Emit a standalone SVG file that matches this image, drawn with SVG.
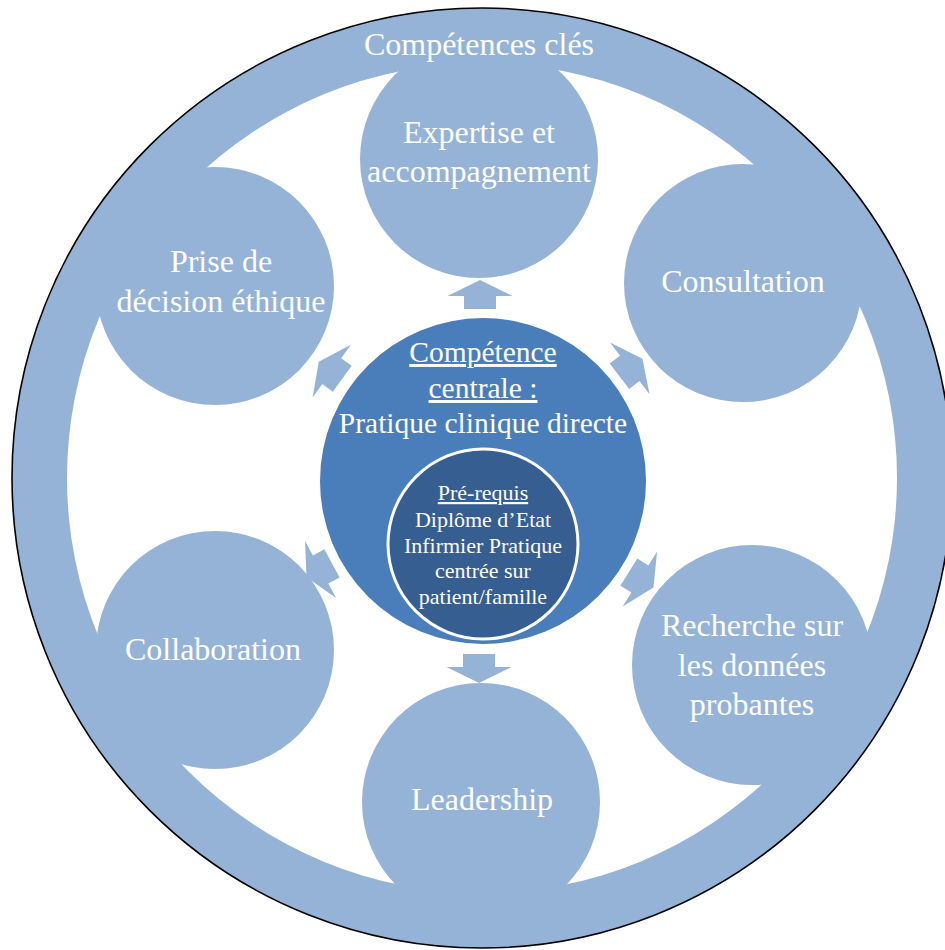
<svg xmlns="http://www.w3.org/2000/svg" width="945" height="950" viewBox="0 0 945 950">
  <style>
    .ring { fill: #95b3d7; stroke: #000000; stroke-width: 1.6; }
    .sat { fill: #95b3d7; }
    .core { fill: #4a7ebb; }
    .pre { fill: #365e90; stroke: #ffffff; stroke-width: 3; }
    .arrow { fill: #95b3d7; }
    text { font-family: "Liberation Serif", "Times New Roman", serif; fill: #ffffff; text-anchor: middle; }
    .t-sat { font-size: 32px; }
    .t-core { font-size: 29.5px; }
    .t-pre { font-size: 22px; }
    .u { text-decoration: underline; }
  </style>
  <defs>
    <!-- block arrow pointing up, tip at (0,-15) -->
    <path id="blockArrow" d="M0,-15 L32.5,1 L16,1 L16,14 L-16,14 L-16,1 L-32.5,1 Z"/>
  </defs>

  <!-- outer ring: key competencies -->
  <g id="ring">
    <circle class="ring" cx="482" cy="478" r="470"/>
    <circle cx="482" cy="478" r="415" fill="#ffffff"/>
  </g>

  <g id="expertise">
    <circle class="sat" cx="479" cy="159" r="119"/>
    <text class="t-sat" x="479" y="143">Expertise et</text>
    <text class="t-sat" x="479" y="182">accompagnement</text>
  </g>

  <g id="consultation">
    <circle class="sat" cx="743" cy="283" r="119"/>
    <text class="t-sat" x="743" y="292">Consultation</text>
  </g>

  <g id="recherche">
    <circle class="sat" cx="752" cy="665" r="120"/>
    <text class="t-sat" x="752" y="636">Recherche sur</text>
    <text class="t-sat" x="752" y="676">les données</text>
    <text class="t-sat" x="752" y="715">probantes</text>
  </g>

  <g id="leadership">
    <circle class="sat" cx="481" cy="802" r="119"/>
    <text class="t-sat" x="482" y="810">Leadership</text>
  </g>

  <g id="collaboration">
    <circle class="sat" cx="215" cy="650" r="119"/>
    <text class="t-sat" x="213" y="660">Collaboration</text>
  </g>

  <g id="ethique">
    <circle class="sat" cx="215" cy="286" r="119"/>
    <text class="t-sat" x="221" y="272">Prise de</text>
    <text class="t-sat" x="221" y="312">décision éthique</text>
  </g>

  <!-- ring title, kept above the satellite discs -->
  <g id="ring-label">
    <text class="t-sat" x="479" y="55">Compétences clés</text>
  </g>

  <!-- central competency -->
  <g id="centrale">
    <circle class="core" cx="483" cy="481" r="163"/>
    <text class="t-core u" x="483" y="362">Compétence</text>
    <text class="t-core u" x="483" y="398">centrale :</text>
    <text class="t-core" x="483" y="433">Pratique clinique directe</text>
  </g>

  <g id="prerequis">
    <circle class="pre" cx="483" cy="544" r="95"/>
    <text class="t-pre u" x="483" y="500">Pré-requis</text>
    <text class="t-pre" x="483" y="527">Diplôme d’Etat</text>
    <text class="t-pre" x="483" y="553">Infirmier Pratique</text>
    <text class="t-pre" x="483" y="578">centrée sur</text>
    <text class="t-pre" x="483" y="604">patient/famille</text>
  </g>

  <!-- arrows from the central competency to each key competency -->
  <g id="connectors" class="arrow">
    <use href="#blockArrow" transform="translate(480,295)"/>
    <use href="#blockArrow" transform="translate(483,481) rotate(52.5) translate(0,-186)"/>
    <use href="#blockArrow" transform="translate(483,481) rotate(122) translate(0,-186)"/>
    <use href="#blockArrow" transform="translate(479,668) rotate(180)"/>
    <use href="#blockArrow" transform="translate(483,481) rotate(-118.6) translate(0,-186)"/>
    <use href="#blockArrow" transform="translate(483,481) rotate(-54) translate(0,-188)"/>
  </g>
</svg>
